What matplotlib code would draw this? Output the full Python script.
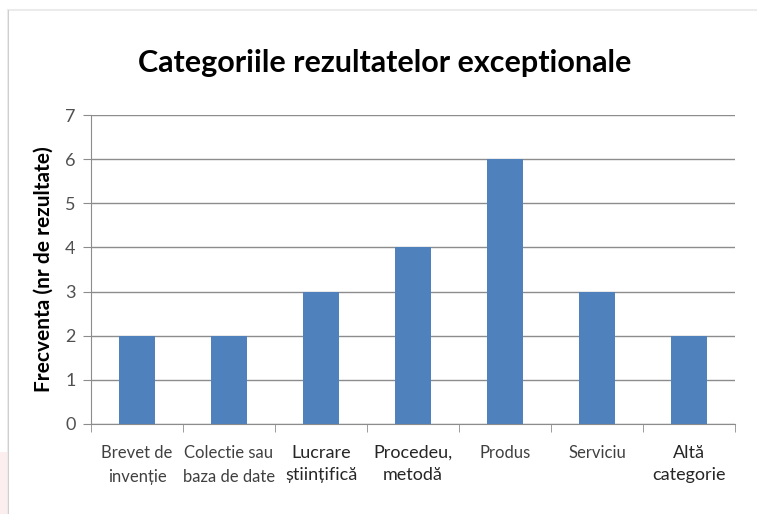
import matplotlib.pyplot as plt
import matplotlib.patches as mpatches
import numpy as np

categories = ['Brevet de\ninvenție', 'Colectie sau\nbaza de date', 'Lucrare\nștiințifică',
              'Procedeu,\nmetodă', 'Produs', 'Serviciu', 'Altă\ncategorie']
values = [2, 2, 3, 4, 6, 3, 2]
yticks = [0, 1, 2, 3, 4, 5, 6, 7]

bar_color = '#4F81BD'
grid_color = '#8C8C8C'
text_gray = '#404040'

fam = ['Lato', 'DejaVu Sans']
plt.rcParams['font.family'] = fam

W, H = 757, 514
fig = plt.figure(figsize=(W / 100, H / 100), dpi=100)

# faint pink strip at the left edge of the screenshot
fig.patches.append(mpatches.Rectangle((0, 0), 7 / W, (514 - 452) / H, transform=fig.transFigure,
                                      color='#FCEEEE', linewidth=0))
# outer chart frame
fig.patches.append(mpatches.Rectangle((8 / W, -0.1), 1, 1.1 - 10 / H, transform=fig.transFigure,
                                      fill=False, edgecolor='#EBEBEB', linewidth=1.5))
fig.patches.append(mpatches.Rectangle((7.5 / W, 0), 1.5 / W, 1 - 10 / H, transform=fig.transFigure,
                                      color='#CFCFCF', linewidth=0))

# plot area in pixels: left 91, right 735, top 115, bottom 424
ax = fig.add_axes([91 / W, 1 - 424 / H, (735 - 91) / W, (424 - 115) / H])

x = np.arange(len(categories))
ax.bar(x, values, width=0.4, color=bar_color, zorder=3)

ax.set_xlim(-0.5, len(categories) - 0.5)
ax.set_ylim(0, 7)
ax.set_yticks(yticks)
ax.yaxis.grid(True, color=grid_color, linewidth=1, zorder=0)

ax.set_xticks(x)
ax.set_xticklabels(categories, fontsize=12, color=text_gray, linespacing=1.65)
# some labels in the original are larger and darker
for i in [2, 3, 6]:
    lbl = ax.get_xticklabels()[i]
    lbl.set_fontsize(13)
    lbl.set_color('#262626')
    lbl.set_linespacing(1.45)
ax.set_xticks(np.arange(len(categories) + 1) - 0.5, minor=True)
ax.tick_params(axis='x', which='major', length=0, pad=15)
ax.tick_params(axis='x', which='minor', length=6, color=grid_color, direction='out')
ax.tick_params(axis='y', length=6, color=grid_color, pad=5, labelsize=13, labelcolor='#505050')

for s in ['top', 'right']:
    ax.spines[s].set_visible(False)
ax.spines['left'].set_color(grid_color)
ax.spines['bottom'].set_color(grid_color)

ax.set_ylabel('Frecventa (nr de rezultate)', fontsize=15, fontweight='bold', labelpad=8)

fig.text(385 / W, 1 - 63 / H, 'Categoriile rezultatelor exceptionale', ha='center', va='center',
         fontsize=22, fontweight='bold')

fig.savefig('out.png', dpi=100)
